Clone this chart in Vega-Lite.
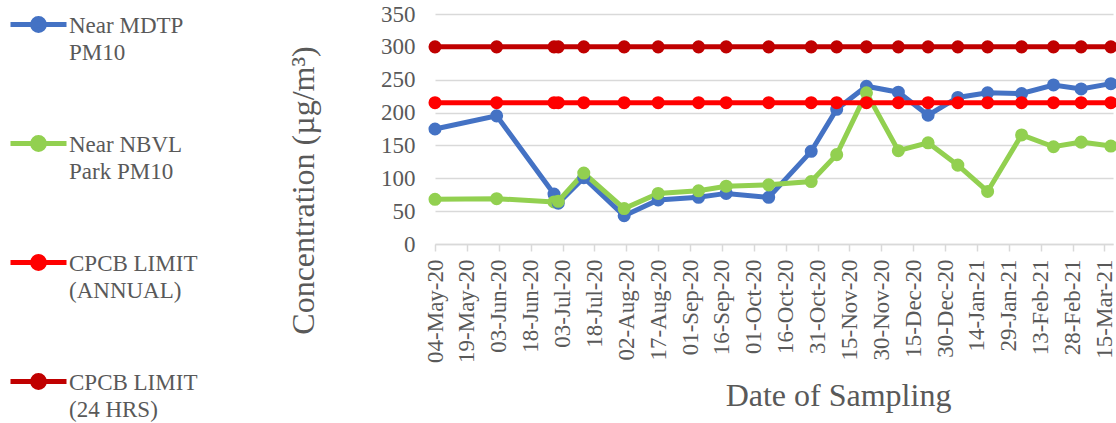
{
  "$schema": "https://vega.github.io/schema/vega-lite/v6.json",
  "width": 678,
  "height": 230,
  "autosize": {"type": "none"},
  "padding": {"left": 435, "top": 14, "right": 3, "bottom": 179},
  "background": "white",
  "config": {
    "view": {"stroke": null},
    "font": "Liberation Serif"
  },
  "data": {
    "values": [
      {"date": "2020/05/04", "mdtp": 175, "nbvl": 68, "annual": 215, "h24": 300},
      {"date": "2020/06/02", "mdtp": 195, "nbvl": 69, "annual": 215, "h24": 300},
      {"date": "2020/06/29", "mdtp": 76, "nbvl": 64, "annual": 215, "h24": 300},
      {"date": "2020/07/01", "mdtp": 62, "nbvl": 65, "annual": 215, "h24": 300},
      {"date": "2020/07/13", "mdtp": 101, "nbvl": 108, "annual": 215, "h24": 300},
      {"date": "2020/08/01", "mdtp": 43, "nbvl": 54, "annual": 215, "h24": 300},
      {"date": "2020/08/17", "mdtp": 67, "nbvl": 77, "annual": 215, "h24": 300},
      {"date": "2020/09/05", "mdtp": 71, "nbvl": 81, "annual": 215, "h24": 300},
      {"date": "2020/09/18", "mdtp": 77, "nbvl": 88, "annual": 215, "h24": 300},
      {"date": "2020/10/08", "mdtp": 71, "nbvl": 90, "annual": 215, "h24": 300},
      {"date": "2020/10/28", "mdtp": 141, "nbvl": 95, "annual": 215, "h24": 300},
      {"date": "2020/11/09", "mdtp": 205, "nbvl": 136, "annual": 215, "h24": 300},
      {"date": "2020/11/23", "mdtp": 240, "nbvl": 230, "annual": 215, "h24": 300},
      {"date": "2020/12/08", "mdtp": 231, "nbvl": 142, "annual": 215, "h24": 300},
      {"date": "2020/12/22", "mdtp": 196, "nbvl": 154, "annual": 215, "h24": 300},
      {"date": "2021/01/05", "mdtp": 223, "nbvl": 120, "annual": 215, "h24": 300},
      {"date": "2021/01/19", "mdtp": 230, "nbvl": 80, "annual": 215, "h24": 300},
      {"date": "2021/02/04", "mdtp": 229, "nbvl": 166, "annual": 215, "h24": 300},
      {"date": "2021/02/19", "mdtp": 242, "nbvl": 148, "annual": 215, "h24": 300},
      {"date": "2021/03/04", "mdtp": 236, "nbvl": 155, "annual": 215, "h24": 300},
      {"date": "2021/03/18", "mdtp": 244, "nbvl": 149, "annual": 215, "h24": 300}
    ]
  },
  "transform": [{"fold": ["mdtp", "nbvl", "annual", "h24"], "as": ["series", "value"]}],
  "mark": {"type": "line", "strokeWidth": 5, "point": {"filled": true, "size": 170, "opacity": 1}},
  "encoding": {
    "x": {
      "field": "date",
      "type": "temporal",
      "scale": {"domain": [{"year": 2020, "month": 5, "date": 4}, {"year": 2021, "month": 3, "date": 19}]},
      "axis": {
        "values": [
          {"year": 2020, "month": 5, "date": 4}, {"year": 2020, "month": 5, "date": 19},
          {"year": 2020, "month": 6, "date": 3}, {"year": 2020, "month": 6, "date": 18},
          {"year": 2020, "month": 7, "date": 3}, {"year": 2020, "month": 7, "date": 18},
          {"year": 2020, "month": 8, "date": 2}, {"year": 2020, "month": 8, "date": 17},
          {"year": 2020, "month": 9, "date": 1}, {"year": 2020, "month": 9, "date": 16},
          {"year": 2020, "month": 10, "date": 1}, {"year": 2020, "month": 10, "date": 16},
          {"year": 2020, "month": 10, "date": 31}, {"year": 2020, "month": 11, "date": 15},
          {"year": 2020, "month": 11, "date": 30}, {"year": 2020, "month": 12, "date": 15},
          {"year": 2020, "month": 12, "date": 30}, {"year": 2021, "month": 1, "date": 14},
          {"year": 2021, "month": 1, "date": 29}, {"year": 2021, "month": 2, "date": 13},
          {"year": 2021, "month": 2, "date": 28}, {"year": 2021, "month": 3, "date": 15}
        ],
        "format": "%d-%b-%y",
        "labelAngle": -90,
        "labelFont": "Liberation Serif",
        "labelFontSize": 23,
        "labelColor": "#595959",
        "labelPadding": 8,
        "labelOverlap": false,
        "labelFlush": false,
        "labelBound": false,
        "domainColor": "#D9D9D9",
        "domainWidth": 1.5,
        "tickColor": "#D9D9D9",
        "tickWidth": 1.5,
        "tickSize": 7,
        "grid": false,
        "title": "Date of Sampling",
        "titleFont": "Liberation Serif",
        "titleFontSize": 32,
        "titleFontWeight": "normal",
        "titleColor": "#595959",
        "titleX": 403,
        "titleY": 161,
        "titleAlign": "center",
        "titleBaseline": "alphabetic"
      }
    },
    "y": {
      "field": "value",
      "type": "quantitative",
      "scale": {"domain": [0, 350], "nice": false, "zero": true},
      "axis": {
        "values": [0, 50, 100, 150, 200, 250, 300, 350],
        "domain": false,
        "ticks": false,
        "grid": true,
        "gridColor": "#D9D9D9",
        "gridWidth": 1.5,
        "labelFont": "Liberation Serif",
        "labelFontSize": 23,
        "labelColor": "#595959",
        "labelPadding": 20,
        "title": "Concentration (µg/m³)",
        "titleFont": "Liberation Serif",
        "titleFontSize": 32,
        "titleFontWeight": "normal",
        "titleColor": "#595959",
        "titleAngle": -90,
        "titleX": -122,
        "titleY": 176,
        "titleAlign": "center",
        "titleBaseline": "alphabetic"
      }
    },
    "color": {
      "field": "series",
      "type": "nominal",
      "scale": {"domain": ["mdtp", "nbvl", "annual", "h24"], "range": ["#4472C4", "#92D050", "#FF0000", "#C00000"]},
      "legend": {
        "orient": "none",
        "legendX": -427,
        "legendY": -20,
        "title": null,
        "padding": 0,
        "symbolType": "M-1,0H1M-0.21,0A0.21,0.21,0,1,0,0.21,0A0.21,0.21,0,1,0,-0.21,0Z",
        "symbolSize": 3136,
        "symbolStrokeWidth": 5,
        "labelFont": "Liberation Serif",
        "labelFontSize": 23,
        "labelColor": "#595959",
        "labelOffset": 0,
        "labelLimit": 300,
        "labelBaseline": "top",
        "rowPadding": 48,
        "labelExpr": "datum.value == 'mdtp' ? ['\u00a0Near MDTP', 'PM10'] : datum.value == 'nbvl' ? ['Near NBVL', 'Park PM10'] : datum.value == 'annual' ? ['CPCB LIMIT', '(ANNUAL)'] : ['CPCB LIMIT', '(24 HRS)']",
        "encode": {
          "symbols": {"update": {"fill": {"scale": "color", "field": "value"}, "stroke": {"scale": "color", "field": "value"}, "opacity": {"value": 1}}},
          "labels": {"update": {"lineHeight": {"value": 27}, "dy": {"value": -10}}}
        }
      }
    }
  }
}
